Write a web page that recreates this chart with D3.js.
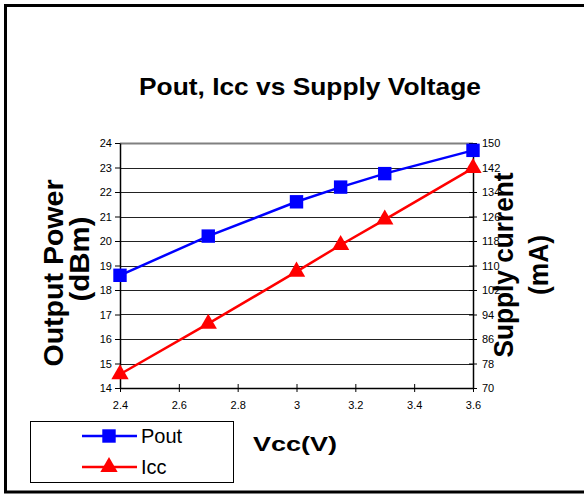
<!DOCTYPE html>
<html>
<head>
<meta charset="utf-8">
<script src="https://cdn.jsdelivr.net/npm/d3@7"></script>
<style>
  body { margin: 0; background: #fff; }
  svg { display: block; font-family: "Liberation Sans", Arial, sans-serif; }
</style>
</head>
<body>
<div id="main-content"></div>
<script>
// chart data
const vcc = [2.4, 2.7, 3.0, 3.15, 3.3, 3.6]
const pout = [18.6, 20.2, 21.6, 22.2, 22.75, 23.7]
const icc = [74.5, 91, 108, 116.7, 125, 141.8]
const xTicks = [2.4, 2.6, 2.8, 3, 3.2, 3.4, 3.6]
const leftTicks = [14, 15, 16, 17, 18, 19, 20, 21, 22, 23, 24]
const rightTicks = [70, 78, 86, 94, 102, 110, 118, 126, 134, 142, 150]

const width = 584, height = 495
const plot = {left: 120, right: 473, top: 143, bottom: 388}

const svg = d3.select("#main-content")
  .append("svg")
  .attr("width", width)
  .attr("height", height)

// outer frame (right edge is cut off in the original)
svg.append("path")
  .attr("d", `M${width + 5},5.5 H5.5 V492 H${width + 5}`)
  .attr("fill", "none")
  .attr("stroke", "#000")
  .attr("stroke-width", 3)

const x = d3.scaleLinear().domain([2.4, 3.6]).range([plot.left, plot.right])
const yL = d3.scaleLinear().domain([14, 24]).range([plot.bottom, plot.top])
const yR = d3.scaleLinear().domain([70, 150]).range([plot.bottom, plot.top])

// gridlines
svg.append("g")
  .selectAll("line")
  .data(leftTicks.slice(1))
  .enter()
  .append("line")
  .attr("x1", plot.left)
  .attr("x2", plot.right)
  .attr("y1", d => Math.round(yL(d)) + 0.5)
  .attr("y2", d => Math.round(yL(d)) + 0.5)
  .attr("stroke", d => d === 24 ? "#808080" : "#222")
  .attr("stroke-width", d => d === 24 ? 2 : 1)

// axes
const axisStyle = g => {
  g.selectAll("text").attr("font-size", 11).attr("fill", "#000")
  g.selectAll("line").attr("stroke", "#000")
  g.select(".domain").attr("stroke", "#000").attr("stroke-width", 1.5)
}

svg.append("g")
  .attr("transform", `translate(0,${plot.bottom})`)
  .call(d3.axisBottom(x).tickValues(xTicks).tickFormat(d3.format("")).tickSize(4).tickSizeOuter(0).tickPadding(9))
  .call(axisStyle)
  .call(g => g.selectAll(".tick line").attr("y1", -4))

svg.append("g")
  .attr("transform", `translate(${plot.left},0)`)
  .call(d3.axisLeft(yL).tickValues(leftTicks).tickSize(5).tickSizeOuter(0).tickPadding(3))
  .call(axisStyle)

svg.append("g")
  .attr("transform", `translate(${plot.right},0)`)
  .call(d3.axisRight(yR).tickValues(rightTicks).tickSize(4).tickSizeOuter(0).tickPadding(5))
  .call(axisStyle)
  .call(g => g.selectAll(".tick line").attr("x1", -4))

// series
const poutData = vcc.map((v, i) => ({x: v, y: pout[i]}))
const iccData = vcc.map((v, i) => ({x: v, y: icc[i]}))

svg.append("path")
  .datum(poutData)
  .attr("fill", "none")
  .attr("stroke", "#0000ff")
  .attr("stroke-width", 2.5)
  .attr("d", d3.line().x(d => x(d.x)).y(d => yL(d.y)))

svg.append("path")
  .datum(iccData)
  .attr("fill", "none")
  .attr("stroke", "#ff0000")
  .attr("stroke-width", 2.5)
  .attr("d", d3.line().x(d => x(d.x)).y(d => yR(d.y)))

const square = d3.symbol().type(d3.symbolSquare).size(180)
const triangle = d3.symbol().type(d3.symbolTriangle).size(130)

svg.append("g")
  .selectAll("path")
  .data(poutData)
  .enter()
  .append("path")
  .attr("d", square)
  .attr("transform", d => `translate(${x(d.x)},${yL(d.y)})`)
  .attr("fill", "#0000ff")

svg.append("g")
  .selectAll("path")
  .data(iccData)
  .enter()
  .append("path")
  .attr("d", triangle)
  .attr("transform", d => `translate(${x(d.x)},${yR(d.y)})`)
  .attr("fill", "#ff0000")

// titles (the original is a bit stretched sideways, so widths are fixed)
svg.append("text")
  .attr("x", 310)
  .attr("y", 95)
  .attr("text-anchor", "middle")
  .attr("font-size", 24)
  .attr("font-weight", "bold")
  .attr("textLength", 342)
  .attr("lengthAdjust", "spacingAndGlyphs")
  .text("Pout, Icc vs Supply Voltage")

svg.append("text")
  .attr("x", 295)
  .attr("y", 451)
  .attr("text-anchor", "middle")
  .attr("font-size", 21)
  .attr("font-weight", "bold")
  .attr("textLength", 84)
  .attr("lengthAdjust", "spacingAndGlyphs")
  .text("Vcc(V)")

// rotated axis titles, one text per line
const rotTitle = (tx, ty, size, label, len) => {
  const t = svg.append("text")
    .attr("transform", `translate(${tx},${ty}) rotate(-90)`)
    .attr("text-anchor", "middle")
    .attr("font-size", size)
    .attr("font-weight", "bold")
    .text(label)
  if (len) t.attr("textLength", len).attr("lengthAdjust", "spacingAndGlyphs")
}

rotTitle(63, 273, 28, "Output Power", 187)
rotTitle(89, 259, 28, "(dBm)", 85)
rotTitle(513, 265, 27, "Supply current", 185)
rotTitle(548, 265, 27, "(mA)", 60)

// legend
const legend = svg.append("g")
legend.append("rect")
  .attr("x", 30.5).attr("y", 421.5)
  .attr("width", 203).attr("height", 61)
  .attr("fill", "#fff").attr("stroke", "#000")

const legendItems = [
  {name: "Pout", color: "#0000ff", symbol: square, y: 436},
  {name: "Icc", color: "#ff0000", symbol: triangle, y: 467}
]
legendItems.forEach(item => {
  legend.append("line")
    .attr("x1", 82).attr("x2", 137)
    .attr("y1", item.y).attr("y2", item.y)
    .attr("stroke", item.color).attr("stroke-width", 2.5)
  legend.append("path")
    .attr("d", item.symbol)
    .attr("transform", `translate(109,${item.y})`)
    .attr("fill", item.color)
  legend.append("text")
    .attr("x", 141).attr("y", item.y + 7)
    .attr("font-size", 20)
    .text(item.name)
})
</script>
</body>
</html>
